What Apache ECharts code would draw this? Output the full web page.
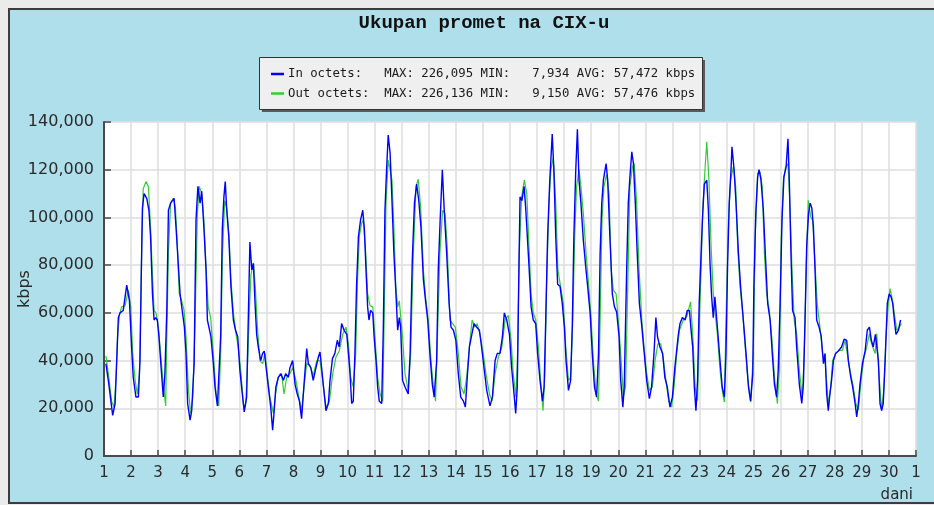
<!DOCTYPE html>
<html>
<head>
<meta charset="utf-8">
<script src="https://cdn.jsdelivr.net/npm/echarts@6/dist/echarts.min.js"></script>
<style>
html,body{margin:0;padding:0;background:#ebebeb;width:934px;height:505px;overflow:hidden;}
#frame{position:absolute;left:8px;top:8px;width:926px;height:496px;box-sizing:border-box;background:#b0dfec;border-top:2px solid #3c3c3c;border-left:2px solid #3c3c3c;border-bottom:2px solid #3c3c3c;}
#chart{position:absolute;left:0;top:0;width:934px;height:505px;}
</style>
</head>
<body>
<div id="frame"></div>
<div id="chart"></div>
<script>
// ---- data (time in days from start of day 1, value in kbps) ----
var titleText = 'Ukupan promet na CIX-u';
var yAxisName = 'kbps';
var xAxisName = 'dani';
var dayLabels = ['1','2','3','4','5','6','7','8','9','10','11','12','13','14','15','16','17','18','19','20','21','22','23','24','25','26','27','28','29','30','1'];
var legendLines = [
  'In octets:   MAX: 226,095 MIN:   7,934 AVG: 57,472 kbps',
  'Out octets:  MAX: 226,136 MIN:   9,150 AVG: 57,476 kbps'
];
var yMax = 140000, yStep = 20000;

var inOctets = [
[0.07,38700],[0.16,31700],[0.32,17000],[0.41,22000],[0.47,40000],[0.53,58000],[0.59,60000],[0.71,61000],[0.84,71600],[0.94,65000],
[1.02,45700],[1.08,33000],[1.18,24700],[1.27,24700],[1.33,40000],[1.37,70900],[1.42,104000],[1.48,110000],[1.58,108000],[1.66,103000],
[1.72,92000],[1.79,68000],[1.85,57000],[1.91,58000],[1.97,57000],[2.03,50000],[2.11,37000],[2.19,24700],[2.25,34500],[2.32,61000],
[2.38,103000],[2.46,106000],[2.59,108000],[2.66,96000],[2.72,85000],[2.81,68000],[2.89,61000],[2.97,54000],[3.03,43000],[3.09,22000],
[3.18,15000],[3.24,19000],[3.33,38700],[3.40,99000],[3.47,113000],[3.55,106000],[3.61,111000],[3.69,96000],[3.77,78000],[3.82,57000],
[3.88,57000],[3.95,50000],[4.04,38700],[4.10,29000],[4.19,21000],[4.26,21000],[4.31,50000],[4.37,95000],[4.43,108600],[4.48,115000],
[4.53,104000],[4.61,92000],[4.69,71000],[4.78,57000],[4.86,52700],[4.94,50000],[5.02,36000],[5.11,26000],[5.18,18500],[5.27,24700],
[5.33,57000],[5.39,89700],[5.46,78000],[5.52,80700],[5.58,64000],[5.64,51000],[5.70,45700],[5.79,40000],[5.86,43000],[5.92,44000],
[5.99,37000],[6.07,29000],[6.16,20500],[6.23,10800],[6.28,17800],[6.35,29000],[6.44,33000],[6.53,34500],[6.63,31700],[6.71,34500],
[6.81,33000],[6.87,37000],[6.97,40000],[7.06,30000],[7.14,26000],[7.22,23000],[7.30,15600],[7.39,30000],[7.49,45000],[7.55,38700],
[7.64,37000],[7.73,31700],[7.83,37000],[7.92,41500],[7.98,43600],[8.04,37000],[8.10,30000],[8.20,19000],[8.29,22000],[8.35,31700],
[8.44,40800],[8.53,43000],[8.62,48500],[8.69,45700],[8.78,55500],[8.87,52700],[8.97,51000],[9.03,43000],[9.09,34500],[9.15,22000],
[9.21,23000],[9.27,43000],[9.33,71000],[9.40,92000],[9.48,99000],[9.56,103000],[9.62,95000],[9.68,78000],[9.74,62500],[9.79,57000],
[9.85,61000],[9.93,60000],[9.98,50000],[10.05,40000],[10.11,29000],[10.17,23000],[10.26,22000],[10.32,54000],[10.38,103000],[10.44,120000],
[10.50,134500],[10.57,127000],[10.63,110000],[10.71,85000],[10.78,69500],[10.85,52700],[10.91,58000],[10.96,54000],[11.03,31700],[11.12,29000],
[11.24,26000],[11.31,43000],[11.39,82000],[11.47,106000],[11.55,114000],[11.63,107000],[11.71,96000],[11.80,74000],[11.88,65000],[11.96,57000],
[12.04,43000],[12.13,30000],[12.20,24700],[12.29,40000],[12.35,78000],[12.42,99000],[12.50,120000],[12.57,103000],[12.66,85000],[12.75,64000],
[12.82,54000],[12.91,52700],[13.00,48500],[13.09,34500],[13.18,24700],[13.28,23000],[13.35,20500],[13.43,34500],[13.50,45700],[13.59,51000],
[13.67,55500],[13.77,54000],[13.87,52700],[13.95,45700],[14.04,37000],[14.14,27500],[14.26,21000],[14.35,24700],[14.45,40000],[14.53,43000],
[14.63,43000],[14.72,50000],[14.79,60000],[14.88,57000],[14.98,51000],[15.06,37000],[15.15,26000],[15.21,17800],[15.27,29000],[15.32,71000],
[15.37,108600],[15.44,107000],[15.52,113000],[15.58,104000],[15.64,92000],[15.71,78000],[15.78,62500],[15.86,57000],[15.95,55500],[16.02,43000],
[16.11,31700],[16.20,23000],[16.26,29000],[16.32,57000],[16.39,92000],[16.47,115600],[16.56,135000],[16.62,120000],[16.69,92000],[16.76,72000],
[16.85,71000],[16.93,64000],[17.01,54000],[17.07,40000],[17.16,27500],[17.24,31700],[17.30,54000],[17.36,92000],[17.43,120000],[17.49,137000],
[17.55,115600],[17.62,106000],[17.71,90400],[17.80,79000],[17.87,71000],[17.96,60000],[18.04,43000],[18.12,29000],[18.20,24700],[18.27,43000],
[18.33,85000],[18.39,106000],[18.45,115600],[18.55,122600],[18.61,115600],[18.69,92000],[18.78,68000],[18.86,62500],[18.94,60400],[19.03,50000],
[19.09,31700],[19.17,20500],[19.22,29000],[19.31,78000],[19.37,106000],[19.43,117000],[19.50,127500],[19.56,122600],[19.63,106000],[19.70,85000],
[19.78,64000],[19.86,55500],[19.96,43000],[20.05,31700],[20.15,24000],[20.23,29000],[20.32,43000],[20.39,58000],[20.45,50000],[20.54,45700],
[20.64,43000],[20.72,33000],[20.81,29000],[20.91,20500],[21.00,24700],[21.09,37000],[21.22,51000],[21.28,55500],[21.37,58000],[21.47,57000],
[21.55,61000],[21.63,61000],[21.69,52700],[21.75,45700],[21.81,29000],[21.87,19000],[21.93,31700],[21.99,64000],[22.06,85000],[22.12,101600],
[22.18,114000],[22.27,115600],[22.33,103000],[22.39,80700],[22.45,66700],[22.51,58000],[22.57,66700],[22.64,57000],[22.70,48500],[22.76,40000],
[22.84,29000],[22.92,24700],[22.98,43000],[23.04,80700],[23.10,106000],[23.17,121000],[23.20,129600],[23.28,120000],[23.35,106000],[23.44,85000],
[23.52,71000],[23.62,57000],[23.72,43000],[23.81,29000],[23.89,23000],[23.97,34500],[24.01,71000],[24.08,101600],[24.15,117000],[24.20,120000],
[24.27,116000],[24.36,103000],[24.45,80700],[24.52,64000],[24.61,57000],[24.69,43000],[24.77,30000],[24.85,24700],[24.91,36000],[24.98,64000],
[25.05,99000],[25.12,117000],[25.20,121000],[25.27,133000],[25.32,115600],[25.38,85000],[25.44,61000],[25.53,58000],[25.59,45700],[25.69,30000],
[25.78,22000],[25.84,30000],[25.90,57000],[25.96,87600],[26.03,101600],[26.09,106000],[26.15,104000],[26.21,96000],[26.27,78000],[26.33,57000],
[26.42,54000],[26.50,50000],[26.58,38700],[26.64,43000],[26.70,26000],[26.76,19000],[26.82,26000],[26.88,31700],[26.95,40000],[27.03,43000],
[27.13,44000],[27.25,45700],[27.35,49000],[27.44,48500],[27.50,40000],[27.59,33000],[27.66,29000],[27.75,22000],[27.81,16400],[27.87,22000],
[27.93,30000],[28.02,38700],[28.12,44000],[28.20,52700],[28.28,54000],[28.35,48500],[28.42,45700],[28.50,51000],[28.61,40000],[28.67,22000],
[28.73,19000],[28.79,22000],[28.87,43000],[28.94,64000],[29.01,68000],[29.08,66700],[29.14,64000],[29.20,57000],[29.26,51000],[29.35,52700],
[29.43,57000]
];

var outOctets = [
[0.07,42000],[0.16,34500],[0.28,23000],[0.37,20500],[0.44,31700],[0.50,50000],[0.57,59000],[0.65,62500],[0.78,63000],[0.90,69500],
[0.99,62500],[1.06,43000],[1.15,31700],[1.23,26000],[1.31,34500],[1.35,57000],[1.40,92000],[1.45,112000],[1.55,115000],[1.64,113000],
[1.72,96000],[1.79,76000],[1.85,61000],[1.92,60000],[2.01,54000],[2.09,43000],[2.19,30000],[2.28,21000],[2.32,50000],[2.38,85000],
[2.46,106000],[2.56,108000],[2.64,104000],[2.71,88000],[2.78,68000],[2.87,65000],[2.96,61000],[3.03,50000],[3.12,27500],[3.20,17800],
[3.28,24700],[3.36,54000],[3.45,101600],[3.52,113000],[3.61,110000],[3.69,99000],[3.77,79000],[3.85,62500],[3.94,58000],[4.04,43000],
[4.14,26000],[4.24,21000],[4.31,43000],[4.38,85000],[4.46,107000],[4.53,104000],[4.62,92000],[4.69,74000],[4.78,60000],[4.88,51000],
[4.96,45700],[5.05,36000],[5.15,22000],[5.23,20500],[5.31,40000],[5.37,61000],[5.43,76000],[5.52,81000],[5.59,71000],[5.67,54000],
[5.76,40000],[5.86,38700],[5.95,43000],[6.03,34500],[6.13,24700],[6.26,17800],[6.34,26000],[6.44,33000],[6.56,34500],[6.65,26000],
[6.75,33000],[6.87,34500],[6.97,37000],[7.09,31700],[7.20,24700],[7.30,19000],[7.39,29000],[7.49,38700],[7.61,38000],[7.73,33800],
[7.86,40000],[7.98,40000],[8.08,31700],[8.20,20500],[8.33,23000],[8.45,34500],[8.57,41500],[8.69,44000],[8.82,51000],[8.94,54000],
[9.03,47000],[9.11,33000],[9.21,29000],[9.30,43000],[9.36,71000],[9.43,92000],[9.52,97500],[9.58,99000],[9.67,85000],[9.74,68000],
[9.83,63000],[9.93,62500],[10.01,50000],[10.11,33000],[10.20,26000],[10.30,23000],[10.36,64000],[10.42,106000],[10.50,124000],[10.57,120000],
[10.64,115600],[10.71,96000],[10.78,71000],[10.85,62500],[10.91,65000],[11.03,50000],[11.12,34500],[11.24,27500],[11.33,43000],[11.43,85000],
[11.53,113000],[11.61,116000],[11.70,104000],[11.80,78000],[11.88,66700],[11.98,57000],[12.08,40000],[12.17,29000],[12.25,23000],[12.33,54000],
[12.41,85000],[12.51,103000],[12.60,101600],[12.68,88000],[12.78,57000],[12.88,55500],[12.98,54000],[13.09,43000],[13.19,29000],[13.30,26000],
[13.40,33000],[13.50,45700],[13.60,57000],[13.70,54000],[13.79,55500],[13.89,51000],[14.01,43000],[14.11,34500],[14.24,26000],[14.34,23000],
[14.45,34500],[14.57,41500],[14.70,45700],[14.82,57000],[14.94,59000],[15.04,48500],[15.12,34500],[15.22,24700],[15.28,43000],[15.34,85000],
[15.43,108600],[15.53,115600],[15.62,110000],[15.70,88000],[15.78,68000],[15.86,60000],[15.95,57000],[16.05,45700],[16.13,31700],[16.22,19000],
[16.29,34500],[16.35,71000],[16.44,106000],[16.51,120000],[16.60,125000],[16.69,106000],[16.77,78000],[16.87,71000],[16.97,64000],[17.06,45700],
[17.16,31700],[17.24,33000],[17.32,57000],[17.39,92000],[17.46,113000],[17.55,120000],[17.62,113000],[17.71,101600],[17.81,85000],[17.91,71000],
[18.00,57000],[18.08,40000],[18.18,26000],[18.27,23000],[18.33,57000],[18.40,99000],[18.47,113000],[18.57,118000],[18.66,110000],[18.74,78000],
[18.82,69500],[18.92,68000],[19.00,57000],[19.09,43000],[19.19,24700],[19.27,29000],[19.35,71000],[19.43,113000],[19.52,121000],[19.59,122600],
[19.68,106000],[19.77,78000],[19.87,57000],[19.95,45700],[20.05,34500],[20.15,27500],[20.26,29000],[20.36,40000],[20.46,47000],[20.57,47000],
[20.67,40000],[20.76,31700],[20.86,23000],[20.97,20500],[21.06,29000],[21.16,43000],[21.26,52700],[21.40,56900],[21.53,58300],[21.67,64600],
[21.75,51300],[21.84,28900],[21.93,23300],[21.99,54100],[22.06,77900],[22.12,103000],[22.18,115600],[22.27,131700],[22.35,115600],[22.43,87700],
[22.51,68100],[22.57,61100],[22.66,51300],[22.76,35900],[22.84,27500],[22.92,22600],[22.98,56900],[23.07,98800],[23.15,115600],[23.25,121200],
[23.34,112800],[23.41,87700],[23.50,70900],[23.60,59700],[23.69,45700],[23.79,31700],[23.89,22600],[23.99,42900],[24.06,91800],[24.15,118400],
[24.24,119100],[24.32,112800],[24.40,84900],[24.48,68100],[24.58,61100],[24.68,48500],[24.78,31700],[24.88,21900],[24.95,35900],[25.02,91800],
[25.10,115600],[25.18,121200],[25.27,122600],[25.34,105800],[25.42,77900],[25.50,56900],[25.59,51300],[25.69,35900],[25.80,24700],[25.87,42900],
[25.96,84900],[26.02,107200],[26.11,100200],[26.18,98800],[26.27,80700],[26.35,63900],[26.45,54100],[26.55,42900],[26.65,38700],[26.76,21900],
[26.85,28900],[26.92,40100],[27.03,42900],[27.15,44300],[27.28,44300],[27.38,48500],[27.46,42900],[27.56,35900],[27.66,30300],[27.78,21900],
[27.87,19200],[27.97,31700],[28.08,41500],[28.18,45700],[28.28,51300],[28.36,47100],[28.49,42900],[28.55,51300],[28.63,34500],[28.73,19200],
[28.82,28900],[28.89,49900],[28.97,62500],[29.04,70200],[29.13,65300],[29.20,59700],[29.29,52700],[29.39,54100],[29.46,55500]
];

// ---- chart ----
function fmtThousands(v){ return String(v).replace(/\B(?=(\d{3})+(?!\d))/g, ','); }
var axisColor = '#4a4a4a';
var gridColor = '#dedede';
var chart = echarts.init(document.getElementById('chart'), null, {renderer:'canvas'});
chart.setOption({
  animation: false,
  backgroundColor: 'transparent',
  grid: {left:104, top:122, right:18, bottom:49, containLabel:false, outerBoundsMode:'none', show:true, backgroundColor:'#ffffff', borderWidth:0},
  xAxis: {
    type:'value', min:0, max:30, interval:1,
    axisLine:{show:true, onZero:false, lineStyle:{color:axisColor, width:2}},
    axisTick:{show:true, inside:true, length:6, lineStyle:{color:axisColor, width:1.5}},
    splitLine:{show:true, lineStyle:{color:gridColor, width:1.5}},
    axisLabel:{show:true, margin:10, color:'#2a2a2a', fontFamily:'DejaVu Sans', fontSize:15, showMinLabel:true, showMaxLabel:true,
      formatter:function(v){ return dayLabels[Math.round(v)]; }}
  },
  yAxis: {
    type:'value', min:0, max:yMax, interval:yStep,
    axisLine:{show:true, onZero:false, lineStyle:{color:axisColor, width:2}},
    axisTick:{show:true, inside:true, length:7, lineStyle:{color:axisColor, width:1.5}},
    splitLine:{show:true, lineStyle:{color:gridColor, width:1.5}},
    axisLabel:{show:true, margin:10, color:'#2a2a2a', fontFamily:'DejaVu Sans', fontSize:16,
      formatter:function(v){ return fmtThousands(v); }}
  },
  series: [
    {name:'Out octets', type:'line', data:outOctets, showSymbol:false, symbol:'none', smooth:false,
      lineStyle:{color:'#33cc33', width:1.2}, z:2},
    {name:'In octets', type:'line', data:inOctets, showSymbol:false, symbol:'none', smooth:false,
      lineStyle:{color:'#0000ff', width:1.4}, z:3}
  ],
  graphic: [
    {type:'text', x:484, y:23, style:{text:titleText, fill:'#111', font:'bold 19px "Liberation Mono"', textAlign:'center', textVerticalAlign:'middle'}},
    {type:'rect', shape:{x:262, y:60, width:443, height:52}, style:{fill:'#5a5a5a'}},
    {type:'rect', shape:{x:259.5, y:57.5, width:443, height:52}, style:{fill:'#efefef', stroke:'#333', lineWidth:1}},
    {type:'line', shape:{x1:271, y1:74, x2:284, y2:74}, style:{stroke:'#0000ff', lineWidth:2.5}},
    {type:'line', shape:{x1:271, y1:93.5, x2:284, y2:93.5}, style:{stroke:'#33cc33', lineWidth:2.5}},
    {type:'text', x:288, y:74, style:{text:legendLines[0], fill:'#1a1a1a', font:'12.3px "DejaVu Sans Mono"', textVerticalAlign:'middle'}},
    {type:'text', x:288, y:93.5, style:{text:legendLines[1], fill:'#1a1a1a', font:'12.3px "DejaVu Sans Mono"', textVerticalAlign:'middle'}},
    {type:'text', x:25, y:289, rotation:Math.PI/2, style:{text:yAxisName, fill:'#2a2a2a', font:'16px "DejaVu Sans"', textAlign:'center', textVerticalAlign:'middle'}},
    {type:'text', x:913, y:495, style:{text:xAxisName, fill:'#2a2a2a', font:'15px "DejaVu Sans"', textAlign:'right', textVerticalAlign:'middle'}}
  ]
});
</script>
</body>
</html>
